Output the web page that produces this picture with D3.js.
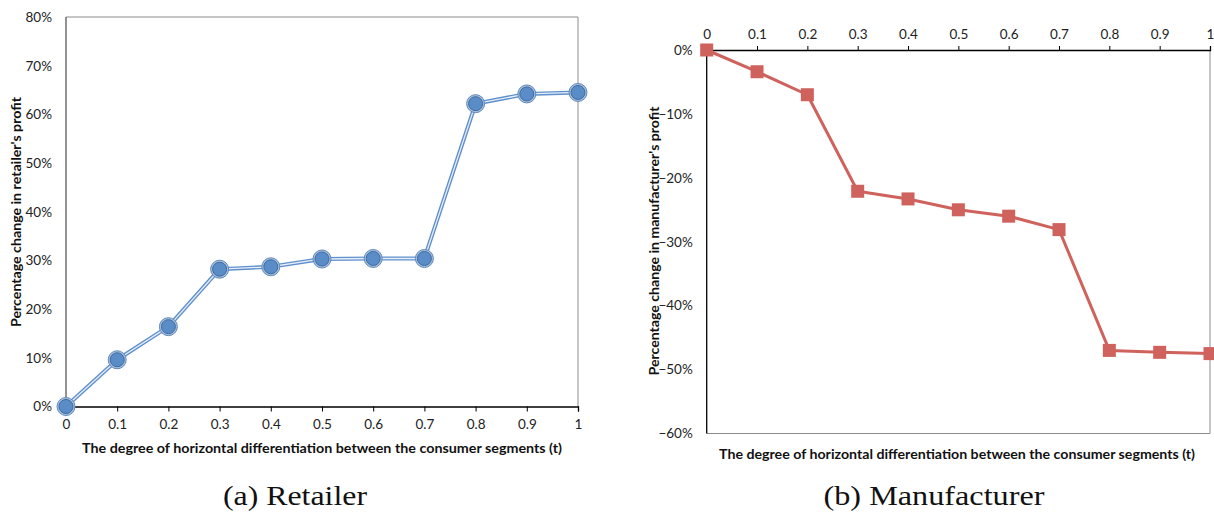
<!DOCTYPE html>
<html>
<head>
<meta charset="utf-8">
<script src="https://cdn.jsdelivr.net/npm/d3@7/dist/d3.min.js"></script>
<style>
  html, body { margin: 0; padding: 0; background: #fff; }
  svg { display: block; }
  .tick-label { font-family: Lato, "Open Sans", sans-serif; font-size: 13.5px; fill: #222; }
  .axis-title { font-family: Lato, "Open Sans", sans-serif; font-size: 14px; font-weight: bold; fill: #111; }
  .caption { font-family: "Liberation Serif", "DejaVu Serif", serif; font-size: 28px; fill: #111; }
</style>
</head>
<body>
<svg id="chart" width="1214" height="513"></svg>
<script>
// ---- data ----
const tValues = [0, 0.1, 0.2, 0.3, 0.4, 0.5, 0.6, 0.7, 0.8, 0.9, 1];
const xTickLabels = ["0", "0.1", "0.2", "0.3", "0.4", "0.5", "0.6", "0.7", "0.8", "0.9", "1"];
const retailerChange = [0, 0.096, 0.164, 0.282, 0.287, 0.303, 0.304, 0.304, 0.622, 0.642, 0.645];
const manufacturerChange = [0, -0.034, -0.070, -0.221, -0.233, -0.250, -0.260, -0.281, -0.470, -0.473, -0.475];
const retailerYTicks = [0, 0.1, 0.2, 0.3, 0.4, 0.5, 0.6, 0.7, 0.8];
const manufacturerYTicks = [0, -0.1, -0.2, -0.3, -0.4, -0.5, -0.6];
const xTitle = "The degree of horizontal differentiation between the consumer segments (t)";
const retailerYTitle = "Percentage change in retailer's profit";
const manufacturerYTitle = "Percentage change in manufacturer's profit";
const captions = ["(a) Retailer", "(b) Manufacturer"];

const svg = d3.select("#chart");
const pct = d3.format(".0%");

// ---- (a) Retailer ----
{
  const x = d3.scaleLinear().domain([0, 1]).range([66, 578]);
  const y = d3.scaleLinear().domain([0, 0.8]).range([406.5, 17]);
  const g = svg.append("g");

  g.append("line").attr("x1", x(0)).attr("x2", x(1)).attr("y1", y(0.8)).attr("y2", y(0.8))
    .attr("stroke", "#8c8c8c").attr("stroke-width", 1);
  g.append("line").attr("x1", x(1)).attr("x2", x(1)).attr("y1", y(0.8)).attr("y2", y(0))
    .attr("stroke", "#8c8c8c").attr("stroke-width", 1);
  g.append("line").attr("x1", x(0)).attr("x2", x(0)).attr("y1", y(0.8)).attr("y2", y(0))
    .attr("stroke", "#595959").attr("stroke-width", 1.3);

  const xAxis = d3.axisBottom(x).tickValues(tValues).tickSize(5).tickPadding(8)
    .tickFormat((d, i) => xTickLabels[i]);
  const ax = g.append("g").attr("transform", `translate(0,${y(0)})`).call(xAxis);
  ax.select(".domain").attr("stroke", "#000").attr("stroke-width", 1.3);
  ax.selectAll(".tick line").attr("stroke", "#000");
  ax.selectAll(".tick text").attr("class", "tick-label").attr("font-family", null).attr("font-size", null);

  const yAxis = d3.axisLeft(y).tickValues(retailerYTicks).tickSize(0).tickPadding(14).tickFormat(pct);
  const ay = g.append("g").attr("transform", `translate(${x(0)},0)`).call(yAxis);
  ay.select(".domain").remove();
  ay.selectAll(".tick text").attr("class", "tick-label").attr("font-family", null).attr("font-size", null);

  const line = d3.line().x((d, i) => x(tValues[i])).y(d => y(d));
  g.append("path").datum(retailerChange).attr("d", line)
    .attr("fill", "none").attr("stroke", "#5f90cc").attr("stroke-width", 4).attr("stroke-linejoin", "round");
  g.append("path").datum(retailerChange).attr("d", line)
    .attr("fill", "none").attr("stroke", "#e6eef9").attr("stroke-width", 1.3).attr("stroke-linejoin", "round");

  const m = g.append("g").selectAll("g").data(retailerChange).join("g")
    .attr("transform", (d, i) => `translate(${x(tValues[i])},${y(d)})`);
  m.append("circle").attr("r", 9).attr("fill", "#a9c1e0").attr("stroke", "#5f88b9").attr("stroke-width", 1);
  m.append("circle").attr("r", 7).attr("fill", "#5a8cc8").attr("stroke", "#3d6a9f").attr("stroke-width", 1);

  g.append("text").attr("class", "axis-title").attr("x", 322).attr("y", 453).attr("text-anchor", "middle")
    .attr("textLength", 480).attr("lengthAdjust", "spacingAndGlyphs").text(xTitle);
  g.append("text").attr("class", "axis-title").attr("text-anchor", "middle")
    .attr("textLength", 230).attr("lengthAdjust", "spacingAndGlyphs")
    .attr("transform", `translate(21,212) rotate(-90)`).text(retailerYTitle);
  g.append("text").attr("class", "caption").attr("x", 295).attr("y", 505).attr("text-anchor", "middle")
    .attr("textLength", 144).attr("lengthAdjust", "spacingAndGlyphs").text(captions[0]);
}

// ---- (b) Manufacturer ----
{
  const x = d3.scaleLinear().domain([0, 1]).range([706.7, 1210]);
  const y = d3.scaleLinear().domain([-0.6, 0]).range([433.5, 50]);
  const g = svg.append("g");

  g.append("line").attr("x1", x(1)).attr("x2", x(1)).attr("y1", y(0)).attr("y2", y(-0.6))
    .attr("stroke", "#8c8c8c").attr("stroke-width", 1);
  g.append("line").attr("x1", x(0)).attr("x2", x(1)).attr("y1", y(-0.6)).attr("y2", y(-0.6))
    .attr("stroke", "#8c8c8c").attr("stroke-width", 1);
  g.append("line").attr("x1", x(0)).attr("x2", x(0)).attr("y1", y(0)).attr("y2", y(-0.6))
    .attr("stroke", "#000").attr("stroke-width", 1.3);

  const xAxis = d3.axisTop(x).tickValues(tValues).tickSize(4).tickPadding(7)
    .tickFormat((d, i) => xTickLabels[i]);
  const ax = g.append("g").attr("transform", `translate(0,${y(0)})`).call(xAxis);
  ax.select(".domain").attr("stroke", "#000").attr("stroke-width", 1.3);
  ax.selectAll(".tick line").attr("stroke", "#000");
  ax.selectAll(".tick text").attr("class", "tick-label").attr("font-family", null).attr("font-size", null);

  const yAxis = d3.axisLeft(y).tickValues(manufacturerYTicks).tickSize(0).tickPadding(14).tickFormat(pct);
  const ay = g.append("g").attr("transform", `translate(${x(0)},0)`).call(yAxis);
  ay.select(".domain").remove();
  ay.selectAll(".tick text").attr("class", "tick-label").attr("font-family", null).attr("font-size", null);

  const line = d3.line().x((d, i) => x(tValues[i])).y(d => y(d));
  g.append("path").datum(manufacturerChange).attr("d", line)
    .attr("fill", "none").attr("stroke", "#cf625c").attr("stroke-width", 3).attr("stroke-linejoin", "round");

  const s = 13;
  g.append("g").selectAll("rect").data(manufacturerChange).join("rect")
    .attr("x", (d, i) => x(tValues[i]) - s / 2).attr("y", d => y(d) - s / 2)
    .attr("width", s).attr("height", s).attr("fill", "#cf625c");

  g.append("text").attr("class", "axis-title").attr("x", 957).attr("y", 459).attr("text-anchor", "middle")
    .attr("textLength", 476).attr("lengthAdjust", "spacingAndGlyphs").text(xTitle);
  g.append("text").attr("class", "axis-title").attr("text-anchor", "middle")
    .attr("textLength", 269).attr("lengthAdjust", "spacingAndGlyphs")
    .attr("transform", `translate(659,241) rotate(-90)`).text(manufacturerYTitle);
  g.append("text").attr("class", "caption").attr("x", 934).attr("y", 505).attr("text-anchor", "middle")
    .attr("textLength", 221).attr("lengthAdjust", "spacingAndGlyphs").text(captions[1]);
}
</script>
</body>
</html>
